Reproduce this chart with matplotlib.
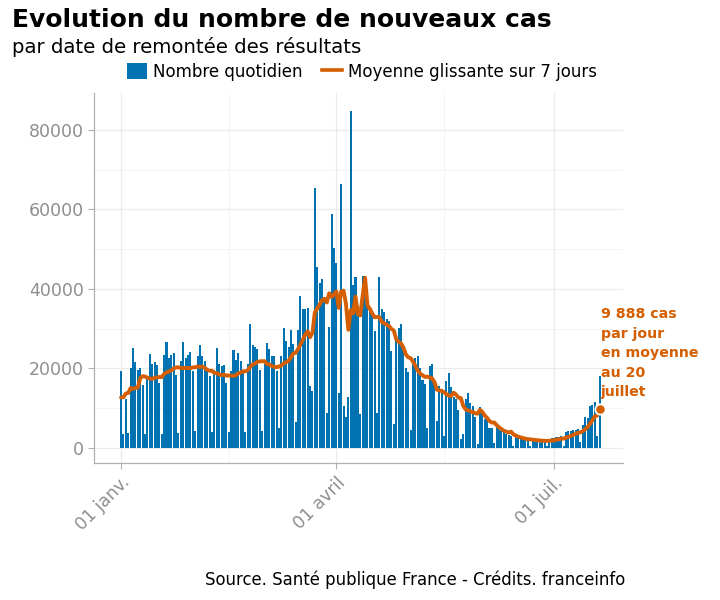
import matplotlib
matplotlib.use("Agg")
import matplotlib.pyplot as plt
from matplotlib.patches import Patch
from matplotlib.lines import Line2D
import pandas as pd

# daily new cases, 1 Jan -> 20 Jul 2021
daily_cases = [
    19300, 3400, 12300, 3800, 20100, 25200, 21600, 19700, 20000, 15800, 3400,
    18000, 23700, 21000, 21500, 20800, 16400, 3400,
    23300, 26600, 22600, 23500, 24000, 18300, 3800,
    21800, 26600, 22600, 23500, 24100, 19300, 4200,
    23000, 26000, 23000, 21800, 20000, 18000, 4000,
    19500, 25200, 21000, 20500, 20900, 16400, 4000,
    19300, 24700, 22200, 23900, 21800, 19000, 4000,
    21000, 31200, 26000, 25500, 25000, 19700, 4300,
    21000, 26500, 24800, 23200, 23200, 19400, 5100,
    23000, 30100, 26900, 25500, 29600, 26100, 6400,
    29600, 38300, 34900, 34900, 35200, 15600, 14300,
    65400, 45400, 41600, 42500, 38000, 8900, 30500,
    58800, 50400, 46400, 13700, 66500, 10600, 7800,
    12700, 84800, 40900, 43000, 35700, 8500, 43300,
    43300, 36200, 35000, 34500, 29400, 8900, 42900,
    34900, 34100, 32400, 32000, 24400, 6000, 27900,
    30100, 31300, 25300, 20000, 19000, 4500, 22000,
    22500, 23000, 20000, 17000, 16000, 5000, 20500,
    21000, 16400, 6800, 15600, 14800, 3000, 16900,
    18800, 15400, 12700, 12300, 9500, 2200, 3500,
    12300, 13700, 11200, 10600, 7800, 1100, 10200,
    8900, 7200, 7000, 5100, 5000, 1300, 5500,
    5100, 4300, 3900, 3600, 3300, 3000, 600,
    2800, 2600, 2500, 2400, 2300, 2100, 400,
    2200, 2100, 2000, 2000, 1900, 1800, 400,
    2300, 2500, 2600, 2700, 2800, 2900, 500,
    3900, 4200, 4200, 4400, 4600, 4700, 1500,
    5800, 7800, 7500, 10600, 10800, 11500, 3000,
    18100,
]
# last days of December 2020, only used to start the 7-day average
dec_tail = [3100, 5700, 2900, 11400, 26500, 20000]

tick_dates = ["2021-01-01", "2021-04-01", "2021-07-01"]
tick_labels = ["01 janv.", "01 avril", "01 juil."]
minor_dates = ["2021-02-15", "2021-05-16"]

blue = "#0072B2"
orange = "#D55E00"
grey_txt = "#8f8f8f"

dates = pd.date_range("2021-01-01", periods=len(daily_cases), freq="D")
full = pd.Series(dec_tail + daily_cases)
moyenne = full.rolling(7).mean().iloc[len(dec_tail):].to_numpy()

fig = plt.figure(figsize=(7.2, 6), dpi=100)
ax = fig.add_axes([94 / 720, 1 - 463 / 600, (623 - 94) / 720, (463 - 93) / 600])

ax.bar(dates, daily_cases, width=0.85, color=blue, linewidth=0, zorder=2)
ax.plot(dates, moyenne, color=orange, linewidth=2.8, zorder=3, solid_capstyle="round")
ax.scatter([dates[-1]], [moyenne[-1]], s=55, color=orange, edgecolor="white",
           linewidth=1.3, zorder=4)

ax.text(dates[-1] + pd.Timedelta(days=0.4), 12300,
        "9 888 cas\npar jour\nen moyenne\nau 20\njuillet",
        color=orange, fontsize=10.2, fontweight="bold", linespacing=1.5,
        ha="left", va="bottom", clip_on=False)

start = pd.Timestamp("2021-01-01")
ax.set_xlim(start + pd.Timedelta(days=-11.3), start + pd.Timedelta(days=209.8))
ax.set_ylim(-3800, 89300)

ax.set_xticks(pd.to_datetime(tick_dates))
ax.set_xticklabels(tick_labels, rotation=45, ha="right", rotation_mode="anchor")
ax.set_xticks(pd.to_datetime(minor_dates), minor=True)
ax.set_yticks([0, 20000, 40000, 60000, 80000])
ax.set_yticks([10000, 30000, 50000, 70000], minor=True)

ax.grid(True, which="major", color="#ebebeb", linewidth=0.9, zorder=0)
ax.grid(True, which="minor", color="#f3f3f3", linewidth=0.6, zorder=0)
ax.set_axisbelow(True)

ax.tick_params(axis="both", which="major", labelsize=12.5, labelcolor=grey_txt,
               color="#b0b0b0", length=4, width=0.8)
ax.tick_params(axis="both", which="minor", length=0)
for side in ["top", "right"]:
    ax.spines[side].set_visible(False)
for side in ["left", "bottom"]:
    ax.spines[side].set_color("#b0b0b0")
    ax.spines[side].set_linewidth(0.9)

fig.text(12 / 720, 1 - 8 / 600, "Evolution du nombre de nouveaux cas",
         fontsize=18, fontweight="bold", ha="left", va="top")
fig.text(12 / 720, 1 - 37 / 600, "par date de remontée des résultats",
         fontsize=14.2, ha="left", va="top")

handles = [Patch(facecolor=blue, edgecolor="none"),
           Line2D([0], [0], color=orange, linewidth=2.6)]
fig.legend(handles, ["Nombre quotidien", "Moyenne glissante sur 7 jours"],
           loc="center", bbox_to_anchor=(362 / 720, 1 - 72 / 600), ncol=2,
           frameon=False, fontsize=12, handlelength=1.2, handleheight=1.1,
           handletextpad=0.35, columnspacing=1.2)

fig.text(625 / 720, 1 - 580 / 600,
         "Source. Santé publique France - Crédits. franceinfo",
         fontsize=11.9, ha="right", va="center")

fig.savefig("out.png", dpi=100)
